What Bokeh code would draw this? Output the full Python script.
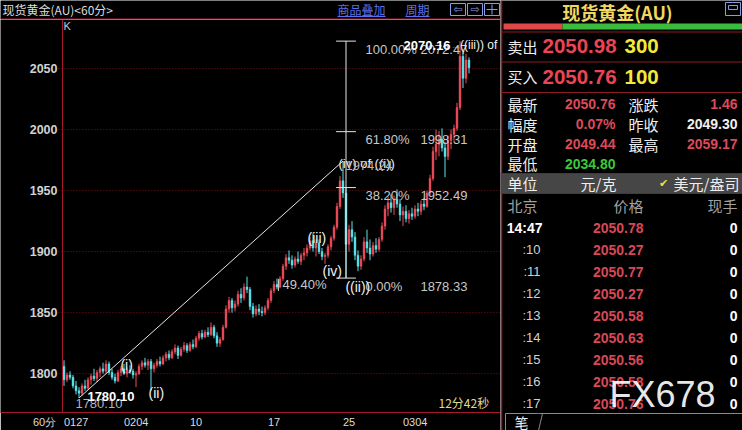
from bokeh.plotting import figure
from bokeh.models import ColumnDataSource, Range1d, FixedTicker, Label, Span
from bokeh.layouts import row, column
from bokeh.embed import file_html
from bokeh.resources import INLINE
from bokeh.core.properties import value

# ---------------- hourly candles (spot gold, USD/oz) ----------------
opens = [
    1806, 1795, 1799, 1797, 1790, 1786, 1784, 1790, 1788, 1795,
    1798, 1796, 1801, 1804, 1802, 1808, 1801, 1797, 1794, 1801,
    1804, 1800, 1803, 1802, 1799, 1800, 1806, 1809, 1807, 1810,
    1804, 1807, 1810, 1808, 1813, 1816, 1813, 1818, 1821, 1815,
    1820, 1823, 1819, 1824, 1822, 1829, 1833, 1830, 1834, 1832,
    1838, 1831, 1825, 1828, 1838, 1853, 1860, 1854, 1857, 1865,
    1862, 1871, 1869, 1855, 1849, 1853, 1851, 1850, 1854, 1860,
    1868, 1873, 1871, 1878, 1888, 1895, 1893, 1889, 1894, 1892,
    1897, 1899, 1903, 1909, 1903, 1907, 1900, 1896, 1897, 1904,
    1911, 1920, 1937, 1958, 1948, 1906, 1918, 1912, 1897, 1888,
    1894, 1908, 1903, 1898, 1905, 1902, 1910, 1921, 1935, 1940,
    1936, 1943, 1939, 1930, 1933, 1927, 1931, 1929, 1935, 1933,
    1939, 1937, 1948, 1960, 1982, 1988, 1992, 1985, 1978, 1991,
    1996, 2001, 2018, 2060, 2042, 2057,
]
highs = [
    1811, 1801, 1802, 1799, 1794, 1789, 1792, 1795, 1797, 1800,
    1804, 1803, 1806, 1809, 1811, 1810, 1804, 1800, 1803, 1806,
    1808, 1805, 1807, 1804, 1802, 1808, 1811, 1813, 1812, 1812,
    1809, 1812, 1814, 1815, 1818, 1819, 1820, 1824, 1823, 1822,
    1826, 1825, 1826, 1828, 1831, 1835, 1836, 1836, 1838, 1842,
    1840, 1834, 1830, 1840, 1856, 1863, 1862, 1860, 1868, 1870,
    1874, 1879.5, 1871, 1858, 1856, 1857, 1855, 1856, 1862, 1870,
    1876, 1878, 1880, 1890, 1898, 1901, 1897, 1896, 1900, 1899,
    1903, 1906, 1912, 1915, 1910, 1910, 1903, 1899, 1906, 1913,
    1922, 1940, 1962, 1974.24, 1952, 1922, 1925, 1916, 1901, 1897,
    1912, 1918, 1910, 1908, 1911, 1912, 1924, 1938, 1945, 1947,
    1946, 1951, 1943, 1937, 1938, 1934, 1936, 1938, 1940, 1942,
    1944, 1950, 1963, 1986, 2000, 1999, 2001, 1990, 1995, 2000,
    2004, 2022, 2072.47, 2066, 2062, 2059.17,
]
lows = [
    1790, 1793, 1795, 1788, 1783, 1780.10, 1782, 1786, 1787, 1791,
    1794, 1793, 1797, 1800, 1800, 1799, 1795, 1792, 1793, 1798,
    1799, 1797, 1800, 1796, 1789, 1799, 1803, 1805, 1803, 1786,
    1801, 1805, 1806, 1807, 1810, 1811, 1812, 1816, 1812, 1814,
    1818, 1817, 1818, 1820, 1821, 1827, 1828, 1829, 1830, 1831,
    1829, 1822, 1822, 1827, 1837, 1850, 1850, 1851, 1855, 1858,
    1860, 1866, 1852, 1846, 1847, 1848, 1847, 1848, 1852, 1858,
    1866, 1869, 1870, 1876, 1885, 1890, 1886, 1887, 1890, 1889,
    1893, 1896, 1901, 1900, 1896, 1898, 1893, 1890, 1895, 1901,
    1909, 1918, 1935, 1944, 1878.33, 1900, 1908, 1893, 1884, 1885,
    1892, 1899, 1893, 1896, 1899, 1900, 1908, 1918, 1929, 1932,
    1930, 1936, 1925, 1921, 1924, 1923, 1926, 1927, 1929, 1930,
    1934, 1936, 1946, 1958, 1975, 1978, 1982, 1961, 1975, 1984,
    1990, 1999, 2016, 2034, 2038, 2046,
]
closes = [
    1795, 1799, 1797, 1790, 1786, 1784, 1790, 1788, 1795, 1798,
    1796, 1801, 1804, 1802, 1808, 1801, 1797, 1794, 1801, 1804,
    1800, 1803, 1802, 1799, 1800, 1806, 1809, 1807, 1810, 1804,
    1807, 1810, 1808, 1813, 1816, 1813, 1818, 1821, 1815, 1820,
    1823, 1819, 1824, 1822, 1829, 1833, 1830, 1834, 1832, 1838,
    1831, 1825, 1828, 1838, 1853, 1860, 1854, 1857, 1865, 1862,
    1871, 1869, 1855, 1849, 1853, 1851, 1850, 1854, 1860, 1868,
    1873, 1871, 1878, 1888, 1895, 1893, 1889, 1894, 1892, 1897,
    1899, 1903, 1909, 1903, 1907, 1900, 1896, 1897, 1904, 1911,
    1920, 1937, 1958, 1948, 1906, 1918, 1912, 1897, 1888, 1894,
    1908, 1903, 1898, 1905, 1902, 1910, 1921, 1935, 1940, 1936,
    1943, 1939, 1930, 1933, 1927, 1931, 1929, 1935, 1933, 1939,
    1937, 1948, 1960, 1982, 1988, 1992, 1985, 1978, 1991, 1996,
    2001, 2018, 2060, 2042, 2057, 2050.76,
]

# axis ticks (candle index of each session label)
date_ticks = [0, 20, 42, 68, 93, 113]
date_labels = ["0127", "0204", "10", "17", "25", "0304"]
period_label = "60分"
price_ticks = [1800, 1850, 1900, 1950, 2000, 2050]

# Fibonacci retracement drawn from the ((ii)) low up to the ((iii)) high
fib_anchor = 94
fib_pcts = ["0.00%", "38.20%", "61.80%", "100.00%"]
fib_prices = [1878.33, 1952.49, 1998.31, 2072.47]
fib_pct_x = 100.5
fib_val_x = 118.8

# trend line between the swing low and the (iv) of ((i)) high
trend_x = [5, 93]
trend_y = [1780.10, 1974.24]

# Elliott wave labels
wave_text = ["(i)", "(ii)", "(iii)", "(iv)", "((ii))"]
wave_x = [18.8, 28.2, 81.2, 86.2, 93.8]
wave_y = [1807.3, 1784.5, 1910.9, 1884.0, 1870.9]

# quote panel
quote_name = "现货黄金(AU)"
ask_label, ask_price, ask_vol = "卖出", "2050.98", "300"
bid_label, bid_price, bid_vol = "买入", "2050.76", "100"
stat_left_names = ["最新", "幅度", "开盘", "最低"]
stat_left_vals = ["2050.76", "0.07%", "2049.44", "2034.80"]
stat_left_colors = ["#dc4a5a", "#dc4a5a", "#dc4a5a", "#3cc83c"]
stat_right_names = ["涨跌", "昨收", "最高"]
stat_right_vals = ["1.46", "2049.30", "2059.17"]
stat_right_colors = ["#dc4a5a", "#f0f0f0", "#dc4a5a"]
tick_times = ["14:47", ":10", ":11", ":12", ":13", ":14", ":15", ":16", ":17"]
tick_prices = [2050.78, 2050.27, 2050.77, 2050.27, 2050.58, 2050.63, 2050.56, 2050.58, 2050.76]
tick_vols = [0, 0, 0, 0, 0, 0, 0, 0, 0]

RED_LINE = "#a8182c"
UP = "#ee4c5c"
DOWN = "#58e6ee"
SANS = "Liberation Sans"
CJK = "Noto Sans CJK SC"

# px per candle slot is 3; the price scale column occupies the first 62 px of the frame
SLOT_PX = 3.0
X_LEFT = -0.5 - 62 / SLOT_PX
X_RIGHT = 145.5
AXIS_X = -0.5                      # price-scale border
YLAB_X = AXIS_X - 5 / SLOT_PX      # right edge of the price labels

# ---------------- candlestick chart ----------------
idx = list(range(len(closes)))
src = ColumnDataSource(dict(
    x=idx, h=highs, l=lows,
    top=[max(o, c) for o, c in zip(opens, closes)],
    bottom=[min(o, c) for o, c in zip(opens, closes)],
    color=[UP if c >= o else DOWN for o, c in zip(opens, closes)],
))

p = figure(width=500, height=411, x_range=Range1d(X_LEFT, X_RIGHT), y_range=Range1d(1768.2, 2090.2),
           output_backend="svg", toolbar_location=None, y_axis_location=None,
           background_fill_color="black", border_fill_color="black",
           min_border_left=0, min_border_right=0, min_border_top=0, min_border_bottom=16,
           outline_line_color=None)
p.xgrid.visible = False
p.ygrid.visible = False

# dotted price grid, starting just right of the price labels
p.segment(x0=[YLAB_X + 0.3] * len(price_ticks), y0=price_ticks,
          x1=[X_RIGHT] * len(price_ticks), y1=price_ticks,
          line_color="#80101c", line_dash="1 2", line_width=1)
# price labels
p.text(x=[YLAB_X] * len(price_ticks), y=price_ticks, text=[str(v) for v in price_ticks],
       text_color="#d2d2d2", text_font=value(SANS), text_font_style="bold", text_font_size="12.5px",
       text_align="right", text_baseline="middle")
p.add_layout(Span(location=AXIS_X, dimension="height", line_color=RED_LINE, line_width=1))

p.segment(x0="x", y0="l", x1="x", y1="h", line_color="color", line_width=1, source=src)
p.vbar(x="x", width=0.6, top="top", bottom="bottom", fill_color="color",
       line_color="color", line_width=0.5, source=src)

# time axis: labels sit to the right of their session start
LAB_PX = 11
tick_pos = [d + len(s) * 0.556 * LAB_PX / 2 / SLOT_PX for d, s in zip(date_ticks, date_labels)]
period_pos = AXIS_X - 18 / SLOT_PX
p.xaxis.ticker = FixedTicker(ticks=[period_pos] + tick_pos)
p.xaxis.major_label_overrides = {period_pos: period_label,
                                 **{t: s for t, s in zip(tick_pos, date_labels)}}
p.xaxis.axis_line_color = RED_LINE
p.xaxis.major_tick_line_color = None
p.xaxis.minor_tick_line_color = None
p.xaxis.major_tick_out = 0
p.xaxis.major_tick_in = 0
p.xaxis.minor_tick_out = 0
p.xaxis.major_label_text_color = "#dcdcdc"
p.xaxis.major_label_text_font = SANS
p.xaxis.major_label_text_font_size = f"{LAB_PX}px"
p.xaxis.major_label_standoff = 3

# trend line
p.line(trend_x, trend_y, line_color="#e6e6e6", line_width=1)

# Fibonacci tool
p.segment(x0=[fib_anchor], y0=[fib_prices[0]], x1=[fib_anchor], y1=[fib_prices[-1]],
          line_color="#e6e6e6", line_width=1)
p.segment(x0=[fib_anchor - 3.3] * 4, y0=fib_prices, x1=[fib_anchor + 3.3] * 4, y1=fib_prices,
          line_color="#e6e6e6", line_width=1)
p.text(x=[fib_pct_x] * 4, y=fib_prices, text=fib_pcts, y_offset=8, text_color="#c8c8c8",
       text_font=value(SANS), text_font_size="13px", text_baseline="middle", text_align="left")
p.text(x=[fib_val_x] * 4, y=fib_prices, text=[f"{v:.2f}" for v in fib_prices], y_offset=8,
       text_color="#c8c8c8", text_font=value(SANS), text_font_size="13px",
       text_baseline="middle", text_align="left")

# 49.40% marker
p.segment(x0=[71.5], y0=[1867.7], x1=[71.5], y1=[1877.5], line_color="#c8c8c8", line_width=1)
p.text(x=[72.8], y=[1873.4], text=["49.40%"], text_color="#c8c8c8", text_font=value(SANS),
       text_font_size="13px", text_baseline="middle", text_align="left")

# wave labels
p.text(x=wave_x, y=wave_y, text=wave_text, text_color="#f2f2f2", text_font=value(SANS),
       text_font_size="14px", text_baseline="middle", text_align="left")
p.text(x=[91.5], y=[1972.0], text=["(iv) of ((i))"], text_color="#f2f2f2", text_font=value(SANS),
       text_font_size="13px", text_baseline="middle", text_align="left")
p.text(x=[93.8], y=[1970.4], text=["1974.24"], text_color="#b4b4b4", text_font=value(SANS),
       text_font_size="13px", text_baseline="middle", text_align="left")

# swing extremes
p.text(x=[3.8], y=[1775.6], text=["1780.10"], text_color="#b4b4b4", text_font=value(SANS),
       text_font_size="13px", text_baseline="middle", text_align="left")
p.text(x=[7.8], y=[1781.7], text=["1780.10"], text_color="#ffffff", text_font=value(SANS),
       text_font_size="13px", text_font_style="bold", text_baseline="middle", text_align="left")
p.text(x=[113.2], y=[2069.0], text=["2070.16"], text_color="#ffffff", text_font=value(SANS),
       text_font_size="13px", text_font_style="bold", text_baseline="middle", text_align="left")
p.text(x=[128.8], y=[2069.0], text=["→"], text_color="#d0d0d0", text_font=value(SANS),
       text_font_size="10px", text_baseline="middle", text_align="left")
p.text(x=[132.0], y=[2069.0], text=["((iii)) of"], text_color="#f2f2f2", text_font=value(SANS),
       text_font_size="12px", text_baseline="middle", text_align="left")

# corner texts
p.add_layout(Label(x=63, y=387, x_units="screen", y_units="screen", text="K",
                   text_color="#c8c8c8", text_font=SANS, text_font_size="11px",
                   text_baseline="middle", text_align="left"))
p.add_layout(Label(x=438, y=10, x_units="screen", y_units="screen", text="12分42秒",
                   text_color="#e2d890", text_font=CJK, text_font_size="12px",
                   text_baseline="middle", text_align="left"))

# ---------------- title bar ----------------
t = figure(width=500, height=19, x_range=Range1d(0, 500), y_range=Range1d(19, 0),
           output_backend="svg", toolbar_location=None, x_axis_type=None, y_axis_type=None,
           background_fill_color="black", border_fill_color="black", min_border=0,
           outline_line_color=None)
t.grid.visible = False
t.text(x=[2], y=[9], text=["现货黄金(AU)<60分>"], text_color="#dcdcdc", text_font=value(CJK),
       text_font_size="12px", text_baseline="middle", text_align="left")
t.text(x=[337, 405], y=[9, 9], text=["商品叠加", "周期"], text_color="#5c70ec", text_font=value(CJK),
       text_font_size="12px", text_baseline="middle", text_align="left")
t.segment(x0=[337, 405], y0=[16, 16], x1=[385, 429], y1=[16, 16], line_color="#5c70ec", line_width=1)
t.quad(left=[450, 467, 484], right=[465, 482, 499], top=[3, 3, 3], bottom=[15, 15, 15],
       fill_color=None, line_color="#8c9ce0", line_width=1)
t.text(x=[457.5, 474.5], y=[9, 9], text=["⇦", "⇨"], text_color="#8c9ce0", text_font=value("DejaVu Sans"),
       text_font_size="11px", text_baseline="middle", text_align="center")
t.segment(x0=[486, 491.5], y0=[9, 4], x1=[497, 491.5], y1=[9, 14], line_color="#8c9ce0", line_width=1)
t.segment(x0=[0], y0=[18.5], x1=[500], y1=[18.5], line_color=RED_LINE, line_width=1.2)

# ---------------- quote panel ----------------
q = figure(width=242, height=430, x_range=Range1d(0, 242), y_range=Range1d(430, 0),
           output_backend="svg", toolbar_location=None, x_axis_type=None, y_axis_type=None,
           background_fill_color="black", border_fill_color="black", min_border=0,
           outline_line_color=None)
q.grid.visible = False

q.segment(x0=[1], y0=[0], x1=[1], y1=[430], line_color=RED_LINE, line_width=1.5)
q.text(x=[117], y=[11], text=[quote_name], text_color="#f0d860", text_font=value(CJK),
       text_font_size="18px", text_font_style="bold", text_baseline="middle", text_align="center")
q.quad(left=[225], right=[240], top=[2], bottom=[15], fill_color=None, line_color="#8c9ce0")
q.quad(left=[228], right=[237], top=[5], bottom=[9], fill_color=None, line_color="#8c9ce0")
q.quad(left=[3, 62], right=[62, 242], top=[23, 23], bottom=[29, 29],
       fill_color=["#e04848", "#3cbc3c"], line_color=None)
q.segment(x0=[0, 0, 0], y0=[31.5, 61.5, 92], x1=[242, 242, 242], y1=[31.5, 61.5, 92],
          line_color="#8c1c24", line_width=1)

# bid / ask
q.text(x=[7, 7], y=[45.5, 76], text=[ask_label, bid_label], text_color="#eeeeee",
       text_font=value(CJK), text_font_size="15px", text_baseline="middle", text_align="left")
q.text(x=[42, 42], y=[45.5, 76], text=[ask_price, bid_price], text_color="#ec4454",
       text_font=value(SANS), text_font_size="20.5px", text_font_style="bold",
       text_baseline="middle", text_align="left")
q.text(x=[124, 124], y=[45.5, 76], text=[ask_vol, bid_vol], text_color="#f4e83c",
       text_font=value(SANS), text_font_size="20.5px", text_font_style="bold",
       text_baseline="middle", text_align="left")

# statistics
stat_y = [103.5, 123.5, 143.5, 163]
q.text(x=[7] * 4, y=stat_y, text=stat_left_names, text_color="#eeeeee", text_font=value(CJK),
       text_font_size="15px", text_baseline="middle", text_align="left")
q.text(x=[115] * 4, y=stat_y, text=stat_left_vals, text_color=stat_left_colors, text_font=value(SANS),
       text_font_size="14px", text_font_style="bold", text_baseline="middle", text_align="right")
q.text(x=[128] * 3, y=stat_y[:3], text=stat_right_names, text_color="#eeeeee", text_font=value(CJK),
       text_font_size="15px", text_baseline="middle", text_align="left")
q.text(x=[237] * 3, y=stat_y[:3], text=stat_right_vals, text_color=stat_right_colors,
       text_font=value(SANS), text_font_size="14px", text_font_style="bold",
       text_baseline="middle", text_align="right")

# unit selector
q.quad(left=[0], right=[242], top=[173], bottom=[193], fill_color="#464646", line_color=None)
q.segment(x0=[0, 0], y0=[173, 193], x1=[242, 242], y1=[173, 193], line_color="#8c1c24", line_width=1)
q.text(x=[7, 80, 173], y=[183] * 3, text=["单位", "元/克", "美元/盎司"], text_color="#eeeeee",
       text_font=value(CJK), text_font_size="15px", text_baseline="middle", text_align="left")
q.text(x=[163], y=[183], text=["✔"], text_color="#e8e040", text_font=value("DejaVu Sans"),
       text_font_size="11px", text_baseline="middle", text_align="center")

# tick list
q.text(x=[7], y=[205], text=["北京"], text_color="#a0a0a0", text_font=value(CJK),
       text_font_size="15px", text_baseline="middle", text_align="left")
q.text(x=[143, 237], y=[205, 205], text=["价格", "现手"], text_color="#a0a0a0", text_font=value(CJK),
       text_font_size="15px", text_baseline="middle", text_align="right")
row_y = [227, 249, 271, 293, 315, 337, 359, 381, 403]
q.text(x=[42], y=row_y[:1], text=tick_times[:1], text_color="#ffffff", text_font=value(SANS),
       text_font_size="14px", text_font_style="bold", text_baseline="middle", text_align="right")
q.text(x=[40] * 8, y=row_y[1:], text=tick_times[1:], text_color="#d2d2d2", text_font=value(SANS),
       text_font_size="13px", text_baseline="middle", text_align="right")
q.text(x=[143] * 9, y=row_y, text=[f"{v:.2f}" for v in tick_prices], text_color="#d84858",
       text_font=value(SANS), text_font_size="14px", text_font_style="bold",
       text_baseline="middle", text_align="right")
q.text(x=[237] * 9, y=row_y, text=[str(v) for v in tick_vols], text_color="#ffffff",
       text_font=value(SANS), text_font_size="14px", text_font_style="bold",
       text_baseline="middle", text_align="right")

# bottom tab
q.line(x=[5, 5, 38, 242], y=[430, 413, 413, 413], line_color="#8a8a8a", line_width=1)
q.line(x=[38, 42], y=[430, 413], line_color="#8a8a8a", line_width=1)
q.text(x=[21], y=[421], text=["笔"], text_color="#eeeeee", text_font=value(CJK),
       text_font_size="14px", text_baseline="middle", text_align="center")

# watermark
q.text(x=[162], y=[394], text=["FX678"], text_color="#ffffff", text_alpha=0.92,
       text_font=value(SANS), text_font_size="36px", text_baseline="middle", text_align="center")

layout = row(column(t, p), q)
open("out.html", "w").write(file_html(layout, INLINE))
